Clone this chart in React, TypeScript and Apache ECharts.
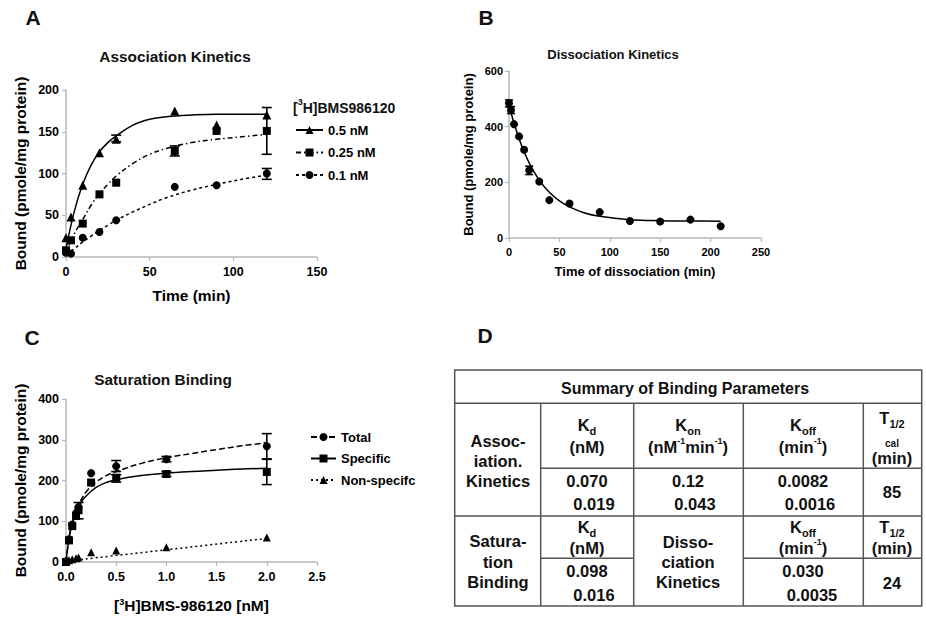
import React, { useEffect, useRef } from 'react';
import * as echarts from 'echarts';

const FONT = '"Liberation Sans", Arial, sans-serif';

// ---------- Panel A: association kinetics ----------
const assocTime = [0, 3, 10, 20, 30, 65, 90, 120];
const assoc05 = [23, 48, 86, 125, 141, 175, 158, 170];
const assoc025 = [8, 20, 40, 75, 89, 127, 151, 151];
const assoc01 = [5, 4, 23, 30, 44, 84, 86, 100];
const assocErr05 = [[30, 138, 146]];
const assocErr025 = [[65, 121, 133], [120, 123, 179]];
const assocErr01 = [[120, 93, 106]];
const assocFitTime = [0, 5, 10, 15, 20, 25, 30, 40, 50, 60, 75, 90, 105, 120];
const assocFit05 = [10, 55, 87, 110, 126, 137, 145, 158, 165, 168, 170, 171, 171, 171];
const assocFit025 = [5, 28, 45, 62, 76, 87, 97, 112, 123, 130, 137, 141, 144, 147];
const assocFit01 = [3, 10, 18, 25, 32, 38, 44, 54, 63, 71, 80, 87, 93, 98];
const assocLegend = ['0.5 nM', '0.25 nM', '0.1 nM'];

// ---------- Panel B: dissociation kinetics ----------
const dissTime = [0, 2, 5, 10, 15, 20, 30, 40, 60, 90, 120, 150, 180, 210];
const dissBound = [484, 460, 409, 365, 317, 243, 203, 136, 124, 93, 61, 59, 66, 42];
const dissErr = [[0, 471, 496], [2, 447, 472], [20, 228, 258]];
const dissFitTime = [0, 5, 10, 15, 20, 30, 40, 50, 60, 75, 90, 120, 150, 180, 210];
const dissFit = [478, 412, 357, 310, 270, 208, 164, 133, 112, 90, 78, 66, 62, 61, 60];

// ---------- Panel C: saturation binding ----------
const satConc = [0, 0.03, 0.0625, 0.1, 0.125, 0.25, 0.5, 1, 2];
const satTotal = [2, 56, 92, 120, 135, 218, 235, 252, 284];
const satSpecific = [0, 53, 88, 113, 127, 195, 207, 216, 221];
const satNonSpecific = [0, 4, 7, 9, 11, 24, 28, 36, 60];
const satErrTotal = [[0.5, 222, 249], [1, 246, 259], [2, 253, 315]];
const satErrSpecific = [[0.125, 106, 146], [0.5, 196, 214], [1, 210, 222], [2, 190, 252]];
const satFitConc = [0, 0.02, 0.05, 0.1, 0.15, 0.2, 0.3, 0.4, 0.5, 0.75, 1, 1.25, 1.5, 1.75, 2];
const satFitSpecific = [0, 40, 82, 120, 146, 162, 183, 195, 202, 212, 218, 222, 225, 228, 230];
const satFitTotal = [0, 42, 86, 125, 152, 172, 196, 212, 222, 242, 256, 266, 276, 285, 293];
const satFitNsConc = [0, 2];
const satFitNs = [2, 58];
const satLegend = ['Total', 'Specific', 'Non-specifc'];

// ---------- Panel D: table ----------
const tableTitle = 'Summary of Binding Parameters';
const assocKd = ['0.070', '0.019'];
const assocKon = ['0.12', '0.043'];
const assocKoff = ['0.0082', '0.0016'];
const assocHalf = '85';
const satKd = ['0.098', '0.016'];
const dissKoff = ['0.030', '0.0035'];
const dissHalf = '24';

const pts = (xs: number[], ys: number[]) => xs.map((x, i) => [x, ys[i]]);

const errSeries = (idx: number, data: number[][], cap: number) => ({
  type: 'custom',
  xAxisIndex: idx,
  yAxisIndex: idx,
  silent: true,
  z: 4,
  data,
  encode: { x: 0, y: [1, 2] },
  renderItem: (_p: any, api: any) => {
    const x = api.value(0);
    const lo = api.coord([x, api.value(1)]);
    const hi = api.coord([x, api.value(2)]);
    const st = { stroke: '#000', lineWidth: 1.6 };
    return {
      type: 'group',
      children: [
        { type: 'line', shape: { x1: lo[0], y1: lo[1], x2: hi[0], y2: hi[1] }, style: st },
        { type: 'line', shape: { x1: lo[0] - cap, y1: lo[1], x2: lo[0] + cap, y2: lo[1] }, style: st },
        { type: 'line', shape: { x1: hi[0] - cap, y1: hi[1], x2: hi[0] + cap, y2: hi[1] }, style: st },
      ],
    };
  },
});

const fitLine = (idx: number, name: string, data: number[][], symbol: string, dash: any) => ({
  type: 'line',
  name,
  xAxisIndex: idx,
  yAxisIndex: idx,
  data,
  smooth: 0.4,
  symbol,
  symbolSize: 8,
  showSymbol: false,
  z: 2,
  itemStyle: { color: '#000', opacity: 1 },
  lineStyle: { color: '#000', width: 1.5, type: dash },
});

const dots = (idx: number, name: string, data: number[][], symbol: string, size: number) => ({
  type: 'scatter',
  name,
  xAxisIndex: idx,
  yAxisIndex: idx,
  data,
  symbol,
  symbolSize: size,
  z: 5,
  itemStyle: { color: '#000', opacity: 1 },
});

const axisCommon = (fs: number, margin: number) => ({
  axisLine: { show: true, lineStyle: { color: '#b8b8b8', width: 1.5 } },
  axisTick: { show: true, length: 4, lineStyle: { color: '#b8b8b8', width: 1.2 } },
  splitLine: { show: false },
  axisLabel: { color: '#000', fontWeight: 'bold', fontSize: fs, fontFamily: FONT, margin },
});

const nameStyle = (fs: number) => ({
  color: '#000',
  fontWeight: 'bold',
  fontSize: fs,
  fontFamily: FONT,
  rich: {
    sup: { fontSize: 9, fontWeight: 'bold', fontFamily: FONT, color: '#000', verticalAlign: 'top', lineHeight: 9 },
  },
});

const RICH = {
  sub: { fontSize: 11, fontWeight: 'bold', fontFamily: FONT, fill: '#111', verticalAlign: 'bottom', lineHeight: 11 },
  sup: { fontSize: 9, fontWeight: 'bold', fontFamily: FONT, fill: '#111', verticalAlign: 'top', lineHeight: 9 },
};

const txt = (text: string, x: number, y: number, size = 16.5, align = 'center') => ({
  type: 'text',
  x,
  y,
  silent: true,
  style: {
    text,
    fontSize: size,
    fontWeight: 'bold',
    fontFamily: FONT,
    fill: '#111',
    align,
    verticalAlign: 'middle',
    lineHeight: 22,
    rich: RICH,
  },
});

const ln = (x1: number, y1: number, x2: number, y2: number) => ({
  type: 'line',
  silent: true,
  shape: { x1, y1, x2, y2 },
  style: { stroke: '#555', lineWidth: 1.5 },
});

export default function App() {
  const ref = useRef<HTMLDivElement>(null);
  useEffect(() => {
    if (!ref.current) return;
    const chart = echarts.init(ref.current, undefined, { renderer: 'svg' });

    const tableX = [454.7, 540.7, 633.7, 743.3, 863.3, 921.7];
    const tableY = [370, 403.3, 468.3, 516, 558.3, 606];

    const graphic: any[] = [
      // panel letters
      txt('A', 33, 17, 21),
      txt('B', 486, 17, 21),
      txt('C', 32, 337, 21),
      txt('D', 485, 335, 21),
      // titles
      txt('Association Kinetics', 175, 56, 15.4),
      txt('Dissociation Kinetics', 613, 54, 13),
      txt('Saturation Binding', 163, 379, 15.4),
      // legend header
      txt('[{sup|3}H]BMS986120', 293, 108, 14, 'left'),
      // table frame
      {
        type: 'rect',
        silent: true,
        shape: { x: tableX[0], y: tableY[0], width: tableX[5] - tableX[0], height: tableY[5] - tableY[0] },
        style: { fill: 'transparent', stroke: '#555', lineWidth: 1.5 },
      },
      ln(tableX[0], tableY[1], tableX[5], tableY[1]),
      ln(tableX[1], tableY[2], tableX[5], tableY[2]),
      ln(tableX[0], tableY[3], tableX[5], tableY[3]),
      ln(tableX[1], tableY[4], tableX[2], tableY[4]),
      ln(tableX[3], tableY[4], tableX[5], tableY[4]),
      ln(tableX[1], tableY[1], tableX[1], tableY[5]),
      ln(tableX[2], tableY[1], tableX[2], tableY[5]),
      ln(tableX[3], tableY[1], tableX[3], tableY[5]),
      ln(tableX[4], tableY[1], tableX[4], tableY[5]),
      // table texts
      txt(tableTitle, 685, 388, 16),
      txt('Assoc-', 498, 441),
      txt('iation.', 498, 461),
      txt('Kinetics', 498, 481),
      txt('K{sub|d}', 587, 425),
      txt('(nM)', 587, 447),
      txt('K{sub|on}', 688, 425),
      txt('(nM{sup|-1}min{sup|-1})', 688, 447),
      txt('K{sub|off}', 803, 425),
      txt('(min{sup|-1})', 803, 447),
      txt('T{sub|1/2}', 892, 418),
      txt('cal', 892, 443, 10),
      txt('(min)', 892, 458),
      txt(assocKd[0], 587, 481),
      txt(assocKd[1], 594, 504),
      txt(assocKon[0], 688, 481),
      txt(assocKon[1], 695, 504),
      txt(assocKoff[0], 803, 481),
      txt(assocKoff[1], 810, 504),
      txt(assocHalf, 892, 492),
      txt('Satura-', 498, 541),
      txt('tion', 498, 562),
      txt('Binding', 498, 582),
      txt('K{sub|d}', 587, 527),
      txt('(nM)', 587, 548),
      txt(satKd[0], 587, 571),
      txt(satKd[1], 594, 595),
      txt('Disso-', 688, 542),
      txt('ciation', 688, 562),
      txt('Kinetics', 688, 582),
      txt('K{sub|off}', 803, 527),
      txt('(min{sup|-1})', 803, 548),
      txt(dissKoff[0], 803, 571),
      txt(dissKoff[1], 812, 595),
      txt('T{sub|1/2}', 892, 527),
      txt('(min)', 892, 548),
      txt(dissHalf, 892, 583),
    ];

    const legendText = { color: '#000', fontWeight: 'bold', fontSize: 13, fontFamily: FONT };

    chart.setOption({
      animation: false,
      backgroundColor: '#fff',
      grid: [
        { left: 66, top: 90, width: 251, height: 167 },
        { left: 509, top: 71, width: 252, height: 167 },
        { left: 66, top: 399, width: 251, height: 163 },
      ],
      xAxis: [
        {
          type: 'value', gridIndex: 0, min: 0, max: 150, interval: 50,
          name: 'Time (min)', nameLocation: 'middle', nameGap: 30, nameTextStyle: nameStyle(15.5),
          ...axisCommon(12.5, 8),
        },
        {
          type: 'value', gridIndex: 1, min: 0, max: 250, interval: 50,
          name: 'Time of dissociation (min)', nameLocation: 'middle', nameGap: 27, nameTextStyle: nameStyle(13),
          ...axisCommon(11, 8),
        },
        {
          type: 'value', gridIndex: 2, min: 0, max: 2.5, interval: 0.5,
          name: '[{sup|3}H]BMS-986120 [nM]', nameLocation: 'middle', nameGap: 35, nameTextStyle: nameStyle(15.5),
          ...axisCommon(12.5, 8),
          axisLabel: { ...axisCommon(12.5, 8).axisLabel, formatter: (v: number) => v.toFixed(1) },
        },
      ],
      yAxis: [
        {
          type: 'value', gridIndex: 0, min: 0, max: 200, interval: 50,
          name: 'Bound (pmole/mg protein)', nameLocation: 'middle', nameGap: 38, nameTextStyle: nameStyle(15.5),
          ...axisCommon(12.5, 7),
        },
        {
          type: 'value', gridIndex: 1, min: 0, max: 600, interval: 200,
          name: 'Bound (pmole/mg protein)', nameLocation: 'middle', nameGap: 34, nameTextStyle: nameStyle(13),
          ...axisCommon(11, 6),
        },
        {
          type: 'value', gridIndex: 2, min: 0, max: 400, interval: 100,
          name: 'Bound (pmole/mg protein)', nameLocation: 'middle', nameGap: 38, nameTextStyle: nameStyle(15.5),
          ...axisCommon(12.5, 7),
        },
      ],
      legend: [
        {
          data: assocLegend, orient: 'vertical', left: 295, top: 123.5, padding: 0,
          itemWidth: 27, itemHeight: 10, itemGap: 9.5, textStyle: legendText, selectedMode: false,
        },
        {
          data: satLegend, orient: 'vertical', left: 310, top: 430.5, padding: 0,
          itemWidth: 25, itemHeight: 10, itemGap: 8.5, textStyle: legendText, selectedMode: false,
        },
      ],
      series: [
        fitLine(0, assocLegend[0], pts(assocFitTime, assocFit05), 'triangle', 'solid'),
        fitLine(0, assocLegend[1], pts(assocFitTime, assocFit025), 'rect', [5, 3, 1.5, 3]),
        fitLine(0, assocLegend[2], pts(assocFitTime, assocFit01), 'circle', [3, 3]),
        dots(0, assocLegend[0], pts(assocTime, assoc05), 'triangle', 9),
        dots(0, assocLegend[1], pts(assocTime, assoc025), 'rect', 8),
        dots(0, assocLegend[2], pts(assocTime, assoc01), 'circle', 8),
        errSeries(0, assocErr05, 5),
        errSeries(0, assocErr025, 5),
        errSeries(0, assocErr01, 5),

        {
          type: 'line', xAxisIndex: 1, yAxisIndex: 1, data: pts(dissFitTime, dissFit), smooth: 0.4,
          showSymbol: false, symbol: 'none', z: 2, lineStyle: { color: '#000', width: 1.5 },
        },
        dots(1, 'Dissociation', pts(dissTime, dissBound), 'circle', 8),
        errSeries(1, dissErr, 4),

        fitLine(2, satLegend[0], pts(satFitConc, satFitTotal), 'circle', [6, 3]),
        fitLine(2, satLegend[1], pts(satFitConc, satFitSpecific), 'rect', 'solid'),
        fitLine(2, satLegend[2], pts(satFitNsConc, satFitNs), 'triangle', [2, 3]),
        dots(2, satLegend[0], pts(satConc, satTotal), 'circle', 8),
        dots(2, satLegend[1], pts(satConc, satSpecific), 'rect', 8),
        dots(2, satLegend[2], pts(satConc, satNonSpecific), 'triangle', 8),
        errSeries(2, satErrTotal, 5),
        errSeries(2, satErrSpecific, 5),
      ],
      graphic,
    });

    return () => chart.dispose();
  }, []);

  return (
    <div
      ref={ref}
      style={{ position: 'fixed', left: 0, top: 0, width: 926, height: 628, background: '#fff' }}
    />
  );
}
